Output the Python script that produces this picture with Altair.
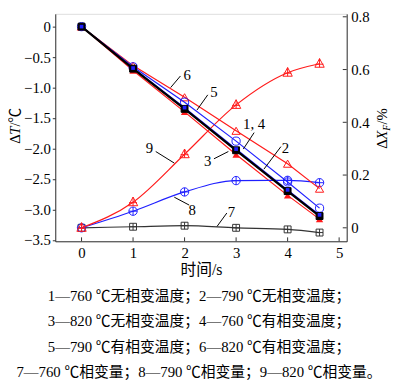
import altair as alt
import pandas as pd

# ---------------- data ----------------
time_s = [0, 1, 2, 3, 4, 4.62]
# temperature change (left axis, ΔT / ℃)
t760_no = [0, -0.69, -1.35, -2.03, -2.70, -3.11]
t790_no = [0, -0.68, -1.33, -2.01, -2.68, -3.09]
t820_no = [0, -0.72, -1.40, -2.10, -2.77, -3.16]
t760_yes = [0, -0.69, -1.35, -2.03, -2.70, -3.11]
t790_yes = [0, -0.66, -1.24, -1.88, -2.55, -2.98]
t820_yes = [0, -0.64, -1.16, -1.71, -2.25, -2.66]
# phase change amount (right axis, ΔX_F / %)
xf760 = [0, 0.004, 0.008, 0.0, -0.006, -0.018]
xf790 = [0, 0.063, 0.136, 0.179, 0.180, 0.171]
xf820 = [0, 0.097, 0.279, 0.466, 0.588, 0.622]

x_ticks = [0, 1, 2, 3, 4, 5]
left_ticks = [0, -0.5, -1.0, -1.5, -2.0, -2.5, -3.0, -3.5]
right_ticks = [0, 0.2, 0.4, 0.6, 0.8]

label_text = ["6", "5", "1, 4", "3", "2", "9", "8", "7"]
label_x = [2.05, 2.57, 3.35, 2.45, 3.96, 1.32, 2.15, 2.91]
label_y = [-0.79, -1.07, -1.60, -2.21, -2.00, -2.00, -3.01, -3.04]
lead_x1 = [1.92, 2.45, 3.35, 2.57, 3.87, 1.44, 2.09, 2.82]
lead_y1 = [-0.81, -1.12, -1.74, -2.17, -1.97, -2.05, -2.93, -3.06]
lead_x2 = [1.73, 2.24, 3.14, 2.85, 3.54, 1.80, 1.80, 2.63]
lead_y2 = [-1.00, -1.37, -2.01, -2.05, -2.34, -2.24, -2.80, -3.28]

caption_lines = [
    "1—760 ℃无相变温度；2—790 ℃无相变温度；",
    "3—820 ℃无相变温度；4—760 ℃有相变温度；",
    "5—790 ℃有相变温度；6—820 ℃有相变温度；",
    "7—760 ℃相变量；8—790 ℃相变量；9—820 ℃相变量。",
]

# ---------------- styling ----------------
W, H = 296, 231
SERIF = "Liberation Serif, Noto Sans CJK SC"
RED = "#ff1a1a"
BLUE = "#1f1fff"
BLACK = "#000000"
FRAME = "#333333"

XS = alt.Scale(domain=[-0.51, 5.147], nice=False, zero=False)
YL = alt.Scale(domain=[-3.524, 0.210], nice=False, zero=False)
YR = alt.Scale(domain=[-0.0511, 0.8112], nice=False, zero=False)

SQ_CROSS = "M-1,-1L1,-1L1,1L-1,1Z M0,-1L0,1 M-1,0L1,0"
CI_CROSS = "M-1,0A1,1,0,1,1,1,0A1,1,0,1,1,-1,0Z M0,-1L0,1 M-1,0L1,0"
TR_CROSS = "M0,-1.1L1,0.75L-1,0.75Z M0,-1.1L0,0.75 M-0.85,0.1L0.85,0.1"

LBL = "datum.value == 0 ? '0' : format(datum.value, '.1f')"

x_axis = alt.Axis(values=x_ticks, tickSize=0, labelPadding=4, labelFont="Liberation Serif",
                  labelFontSize=15, labelColor="black", domainColor=FRAME,
                  grid=False, title="时间/s", titleFont=SERIF, titleFontSize=16,
                  titleFontWeight="normal", titleColor="black", titlePadding=2,
                  labelFlush=False, labelOverlap=False)
yl_axis = alt.Axis(values=left_ticks, tickSize=3, tickColor=FRAME, labelPadding=2,
                   labelFont="Liberation Serif", labelFontSize=15, labelColor="black",
                   domainColor=FRAME, grid=False, labelExpr=LBL,
                   labelFlush=False, labelOverlap=False)
yr_axis = alt.Axis(orient="right", values=right_ticks, tickSize=0, labelPadding=4,
                   labelFont="Liberation Serif", labelFontSize=15, labelColor="black",
                   domainColor=FRAME, grid=False, labelExpr=LBL,
                   labelFlush=False, labelOverlap=False)


def enc(xf, yf, yscale, yaxis=None):
    return dict(
        x=alt.X(xf, scale=XS, axis=x_axis),
        y=alt.Y(yf, scale=yscale, axis=yaxis, title=None) if yaxis is None
        else alt.Y(yf, scale=yscale, axis=yaxis, title=""),
    )


def temp_layers(vals, color, width, shape, filled, size, yaxis=None):
    df = pd.DataFrame({"t": time_s, "v": vals})
    base = alt.Chart(df)
    line = base.mark_line(color=color, strokeWidth=width).encode(**enc("t:Q", "v:Q", YL, yaxis))
    pts = base.mark_point(shape=shape, filled=filled, color=color, size=size,
                          strokeWidth=1, opacity=1).encode(**enc("t:Q", "v:Q", YL))
    return [line, pts]


def phase_layers(vals, color, shape, size, yaxis=None):
    df = pd.DataFrame({"t": time_s, "v": vals})
    base = alt.Chart(df)
    line = base.mark_line(color=color, strokeWidth=1.2, interpolate="monotone").encode(
        **enc("t:Q", "v:Q", YR, yaxis))
    pts = base.mark_point(shape=shape, filled=False, color=color, size=size,
                          strokeWidth=1, opacity=1).encode(**enc("t:Q", "v:Q", YR))
    return [line, pts]


one = pd.DataFrame({"k": [0]})
layers = []

layers += temp_layers(t820_no, RED, 1.2, "triangle-up", True, 55, yaxis=yl_axis)
layers += phase_layers(xf760, "#333333", SQ_CROSS, 49, yaxis=yr_axis)
layers += phase_layers(xf790, BLUE, CI_CROSS, 72)
layers += phase_layers(xf820, RED, TR_CROSS, 90)
layers += temp_layers(t820_yes, RED, 1.2, "triangle-up", False, 70)
layers += temp_layers(t790_yes, BLUE, 1.2, "circle", False, 70)
layers += temp_layers(t790_no, BLUE, 1.2, "square", True, 16)
layers += temp_layers(t760_yes, BLACK, 1.2, "square", False, 49)
layers += temp_layers(t760_no, BLACK, 2.2, "square", True, 49)
# blue marker on top of black squares (790 no phase change)
layers.append(alt.Chart(pd.DataFrame({"t": time_s, "v": t790_no})).mark_point(
    shape="square", filled=True, color=BLUE, size=14, opacity=1).encode(
    **enc("t:Q", "v:Q", YL)))

lab_df = pd.DataFrame({"txt": label_text, "x": label_x, "y": label_y})
layers.append(alt.Chart(lab_df).mark_text(font="Liberation Serif", fontSize=15, color="black",
                                           align="center", baseline="middle").encode(
    text="txt:N", **enc("x:Q", "y:Q", YL)))
lead_df = pd.DataFrame({"x1": lead_x1, "y1": lead_y1, "x2": lead_x2, "y2": lead_y2})
layers.append(alt.Chart(lead_df).mark_rule(color="black", strokeWidth=1).encode(
    x2="x2:Q", y2="y2:Q", **enc("x1:Q", "y1:Q", YL)))

# inward x ticks
layers.append(alt.Chart(pd.DataFrame({"t": x_ticks})).mark_rule(color=FRAME, strokeWidth=1).encode(
    x=alt.X("t:Q", scale=XS, axis=x_axis), y=alt.value(H), y2=alt.value(H - 4)))
# inward right ticks
layers.append(alt.Chart(pd.DataFrame({"v": right_ticks})).mark_rule(color=FRAME, strokeWidth=1).encode(
    y=alt.Y("v:Q", scale=YR, axis=None, title=None), x=alt.value(W), x2=alt.value(W - 4)))


def txt(s, x, y, size=15, style="normal"):
    return alt.Chart(one).mark_text(text=s, font=SERIF, fontSize=size, fontStyle=style,
                                    angle=270, align="left", baseline="alphabetic",
                                    color="black").encode(x=alt.value(x), y=alt.value(y))


# left axis title: ΔT/℃ (T italic)
lt_x = -36
layers.append(txt("Δ", lt_x, 132))
layers.append(txt("T", lt_x, 122.8, style="italic"))
layers.append(txt("/℃", lt_x, 114.4))

# right axis title: ΔX_F/%
rx = W + 41
layers.append(txt("Δ", rx, 137))
layers.append(txt("X", rx, 127.8, style="italic"))
layers.append(txt("F", rx + 3, 118.8, size=10, style="italic"))
layers.append(txt("/%", rx, 112.5))

# caption
layers.append(alt.Chart(one).mark_text(text="\n".join(caption_lines), lineBreak="\n",
                                        lineHeight=25.5, font=SERIF, fontSize=15,
                                        align="center", baseline="top", color="black").encode(
    x=alt.value(146), y=alt.value(280)))

chart = alt.layer(*layers).resolve_scale(y="independent").properties(
    width=W, height=H,
    autosize=alt.AutoSizeParams(type="none"),
    padding={"left": 48, "top": 3, "right": 46, "bottom": 141},
).configure_view(stroke=FRAME, strokeWidth=1).configure(background="white")

chart.save("out.html", embed_options={"renderer": "svg", "actions": False})
